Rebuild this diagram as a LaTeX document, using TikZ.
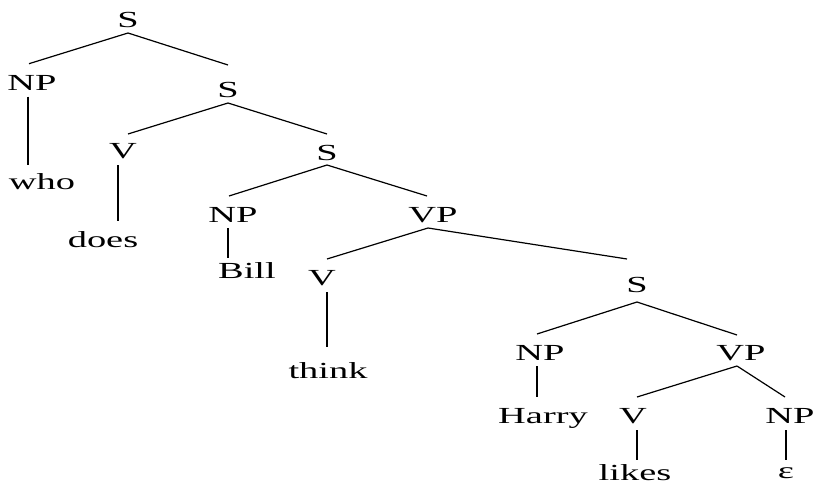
\documentclass[tikz,border=0pt]{standalone}
\usepackage{fontspec}
\setmainfont{Liberation Serif}[FakeStretch=1.67]
\begin{document}
\begin{tikzpicture}[x=1pt,y=-1pt,
  lab/.style={anchor=base,inner sep=0pt,font=\fontsize{23}{23}\selectfont},
  edge/.style={line width=1.2pt}]
\useasboundingbox (0,0) rectangle (818,487);
% nodes (x = centre, y = baseline)
\node[lab] (s1) at (128,28) {S};
\node[lab] (np1) at (32,90.7) {NP};
\node[lab] (who) at (42,189) {who};
\node[lab] (s2) at (228,97) {S};
\node[lab] (v1) at (123,158) {V};
\node[lab] (does) at (103,247) {does};
\node[lab] (s3) at (327,160) {S};
\node[lab] (np2) at (233,222) {NP};
\node[lab] (bill) at (247,278) {Bill};
\node[lab] (vp1) at (433,222) {VP};
\node[lab] (v2) at (322,285) {V};
\node[lab] (think) at (328,378) {think};
\node[lab] (s4) at (637,292) {S};
\node[lab] (np3) at (540,360) {NP};
\node[lab] (harry) at (543,423) {Harry};
\node[lab] (vp2) at (741,360) {VP};
\node[lab] (v3) at (633,423) {V};
\node[lab] (likes) at (635,480) {likes};
\node[lab] (np4) at (790,423) {NP};
\node[lab] (eps) at (786,478) {ε};
% connectors
\draw[edge] ([shift={(0,5)}]s1.base) -- ([shift={(-3,-27)}]np1.base);
\draw[edge] ([shift={(0,5)}]s1.base) -- ([shift={(0,-32)}]s2.base);
\draw[edge] ([shift={(-4,6)}]np1.base) -- ([shift={(-14,-24)}]who.base);
\draw[edge] ([shift={(0,6)}]s2.base) -- ([shift={(5,-24)}]v1.base);
\draw[edge] ([shift={(0,6)}]s2.base) -- ([shift={(0,-26)}]s3.base);
\draw[edge] ([shift={(-5,7)}]v1.base) -- ([shift={(15,-26)}]does.base);
\draw[edge] ([shift={(0,5)}]s3.base) -- ([shift={(-4,-26)}]np2.base);
\draw[edge] ([shift={(0,5)}]s3.base) -- ([shift={(-6,-26)}]vp1.base);
\draw[edge] ([shift={(-5,6)}]np2.base) -- ([shift={(-19,-20)}]bill.base);
\draw[edge] ([shift={(-5,6)}]vp1.base) -- ([shift={(5,-26)}]v2.base);
\draw[edge] ([shift={(-5,6)}]vp1.base) -- ([shift={(-10,-33)}]s4.base);
\draw[edge] ([shift={(5,7)}]v2.base) -- ([shift={(-1,-31)}]think.base);
\draw[edge] ([shift={(0,10)}]s4.base) -- ([shift={(-3,-26)}]np3.base);
\draw[edge] ([shift={(0,10)}]s4.base) -- ([shift={(-4,-25)}]vp2.base);
\draw[edge] ([shift={(-3,6)}]np3.base) -- ([shift={(-6,-26)}]harry.base);
\draw[edge] ([shift={(-4,6)}]vp2.base) -- ([shift={(4,-26)}]v3.base);
\draw[edge] ([shift={(-4,6)}]vp2.base) -- ([shift={(-5,-26)}]np4.base);
\draw[edge] ([shift={(4,7)}]v3.base) -- ([shift={(2,-20)}]likes.base);
\draw[edge] ([shift={(-4,7)}]np4.base) -- ([shift={(0,-18)}]eps.base);
\end{tikzpicture}
\end{document}
